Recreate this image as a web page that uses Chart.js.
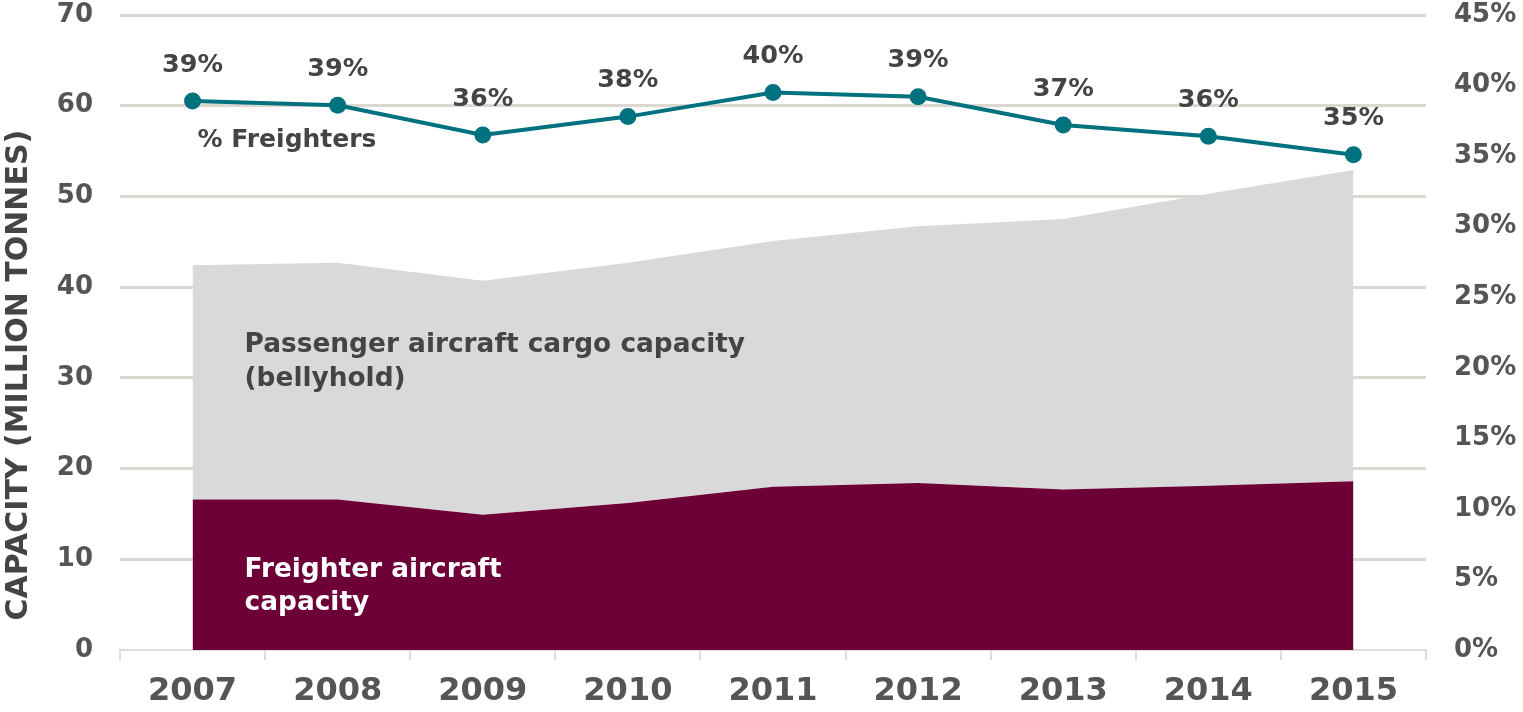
<!DOCTYPE html>
<html>
<head>
<meta charset="utf-8">
<script src="https://cdn.jsdelivr.net/npm/chart.js@4/dist/chart.umd.min.js"></script>
<style>
  html, body { margin: 0; padding: 0; background: #ffffff; }
  #wrap { width: 1523px; height: 712px; position: relative; }
</style>
</head>
<body>
<div id="wrap"><canvas id="c"></canvas></div>
<script>
// ---- data ----
const years = ['2007', '2008', '2009', '2010', '2011', '2012', '2013', '2014', '2015'];
const freighterCapacity = [16.6, 16.6, 14.9, 16.2, 18.0, 18.4, 17.7, 18.1, 18.6];
const bellyholdCapacity = [25.8, 26.1, 25.8, 26.5, 27.1, 28.3, 29.8, 32.2, 34.3];
const pctFreighters = [38.9, 38.6, 36.5, 37.8, 39.5, 39.2, 37.2, 36.4, 35.1];
const pctLabels = ['39%', '39%', '36%', '38%', '40%', '39%', '37%', '36%', '35%'];
const leftAxisMax = 70, leftAxisStep = 10;
const rightAxisMax = 45, rightAxisStep = 5;
const yAxisTitle = 'CAPACITY (MILLION TONNES)';
const seriesNames = ['% Freighters', 'Freighter aircraft capacity', 'Passenger aircraft cargo capacity (bellyhold)'];

const FONT = '"DejaVu Sans", sans-serif';
const TEXT = '#444444';
const TICK = '#555555';

const annotationPlugin = {
  id: 'annotations',
  afterDatasetsDraw(chart) {
    const ctx = chart.ctx;
    const x = chart.scales.x, y = chart.scales.y;
    const line = chart.getDatasetMeta(0);
    ctx.save();
    // point labels
    ctx.font = 'bold 25.5px ' + FONT;
    ctx.fillStyle = TEXT;
    ctx.textAlign = 'center';
    ctx.textBaseline = 'middle';
    line.data.forEach((pt, i) => {
      ctx.fillText(pctLabels[i], pt.x, pt.y - 36);
    });
    // series labels
    const x0 = x.getPixelForValue(0);
    ctx.textAlign = 'left';
    ctx.textBaseline = 'alphabetic';
    ctx.font = 'bold 25px ' + FONT;
    ctx.fillStyle = TEXT;
    ctx.fillText('% Freighters', x0 + 5, y.getPixelForValue(55.4));
    ctx.font = 'bold 26.4px ' + FONT;
    ctx.fillStyle = TEXT;
    ctx.fillText('Passenger aircraft cargo capacity', x0 + 52, y.getPixelForValue(32.8));
    ctx.fillText('(bellyhold)', x0 + 52, y.getPixelForValue(29.05));
    ctx.fillStyle = '#ffffff';
    ctx.fillText('Freighter aircraft', x0 + 52, y.getPixelForValue(8.1));
    ctx.fillText('capacity', x0 + 52, y.getPixelForValue(4.4));
    // y axis title
    ctx.save();
    ctx.translate(19, y.getPixelForValue(30.3));
    ctx.rotate(-Math.PI / 2);
    ctx.textAlign = 'center';
    ctx.textBaseline = 'middle';
    ctx.font = 'bold 30px ' + FONT;
    ctx.fillStyle = TEXT;
    ctx.fillText(yAxisTitle, 0, 0);
    ctx.restore();
    ctx.restore();
  }
};

new Chart(document.getElementById('c'), {
  type: 'line',
  data: {
    labels: years,
    datasets: [
      {
        label: seriesNames[0],
        data: pctFreighters,
        yAxisID: 'y2',
        borderColor: '#00717e',
        backgroundColor: '#00717e',
        borderWidth: 4,
        pointRadius: 8.5,
        pointHoverRadius: 8.5,
        pointBackgroundColor: '#00717e',
        pointBorderWidth: 0,
        fill: false,
        tension: 0,
        order: 0
      },
      {
        label: seriesNames[1],
        data: freighterCapacity,
        yAxisID: 'y',
        stack: 'cap',
        backgroundColor: '#6e0038',
        borderColor: '#6e0038',
        borderWidth: 0,
        pointRadius: 0,
        fill: 'origin',
        tension: 0,
        order: 1
      },
      {
        label: seriesNames[2],
        data: bellyholdCapacity,
        yAxisID: 'y',
        stack: 'cap',
        backgroundColor: '#d9d9d9',
        borderColor: '#d9d9d9',
        borderWidth: 0,
        pointRadius: 0,
        fill: '-1',
        tension: 0,
        order: 2
      }
    ]
  },
  options: {
    responsive: true,
    maintainAspectRatio: false,
    animation: false,
    layout: { padding: { top: 15, left: 0, right: 0, bottom: 0 } },
    plugins: {
      legend: { display: false },
      tooltip: { enabled: false },
      title: { display: false }
    },
    scales: {
      x: {
        type: 'category',
        offset: true,
        grid: {
          display: true,
          offset: true,
          drawOnChartArea: false,
          drawTicks: true,
          tickLength: 10,
          color: '#dddddd',
          lineWidth: 2
        },
        border: { display: true, color: '#dddddd', width: 2 },
        ticks: {
          color: TICK,
          font: { family: FONT, size: 32, weight: 'bold' },
          padding: 12,
          maxRotation: 0
        },
        afterFit(scale) { scale.height = 62; scale.paddingLeft = 0; scale.paddingRight = 0; }
      },
      y: {
        position: 'left',
        stacked: true,
        min: 0,
        max: leftAxisMax,
        ticks: {
          stepSize: leftAxisStep,
          color: TICK,
          font: { family: FONT, size: 26, weight: 'bold' },
          padding: 27
        },
        grid: {
          drawTicks: false,
          lineWidth: 3,
          color: (c) => (c.tick && c.tick.value === 0) ? 'rgba(0,0,0,0)' : '#dcd8d1'
        },
        border: { display: false },
        afterFit(scale) { scale.width = 120; scale.paddingTop = 0; scale.paddingBottom = 0; }
      },
      y2: {
        position: 'right',
        min: 0,
        max: rightAxisMax,
        ticks: {
          stepSize: rightAxisStep,
          color: TICK,
          font: { family: FONT, size: 26, weight: 'bold' },
          padding: 28,
          callback: (v) => v + '%'
        },
        grid: { display: false, drawTicks: false },
        border: { display: false },
        afterFit(scale) { scale.width = 97; scale.paddingTop = 0; scale.paddingBottom = 0; }
      }
    }
  },
  plugins: [annotationPlugin]
});
</script>
</body>
</html>
